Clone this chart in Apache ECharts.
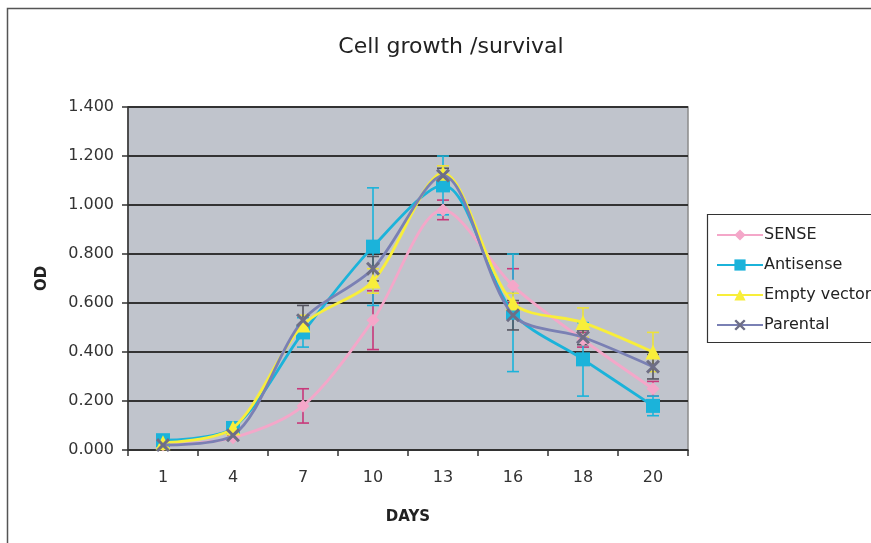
<!DOCTYPE html>
<html>
<head>
<meta charset="utf-8">
<script src="https://cdn.jsdelivr.net/npm/echarts@6/dist/echarts.min.js"></script>
<style>html,body{margin:0;padding:0;background:#fff;}#chart{width:871px;height:543px;}</style>
</head>
<body>
<div id="chart"></div>
<script>
const days = ['1', '4', '7', '10', '13', '16', '18', '20'];
const seriesNames = ['SENSE', 'Antisense', 'Empty vector', 'Parental'];
const sense = [0.02, 0.05, 0.18, 0.53, 0.98, 0.67, 0.45, 0.25];
const antisense = [0.04, 0.09, 0.48, 0.83, 1.08, 0.56, 0.37, 0.18];
const emptyVector = [0.03, 0.09, 0.51, 0.69, 1.13, 0.60, 0.52, 0.40];
const parental = [0.02, 0.06, 0.53, 0.74, 1.12, 0.55, 0.46, 0.34];
const senseErr = [0.01, 0.01, 0.07, 0.12, 0.04, 0.07, 0.03, 0.03];
const antisenseErr = [0.01, 0.02, 0.06, 0.24, 0.12, 0.24, 0.15, 0.04];
const emptyVectorErr = [0.01, 0.02, 0.04, 0.05, 0.03, 0.04, 0.06, 0.08];
const parentalErr = [0.01, 0.02, 0.06, 0.05, 0.03, 0.06, 0.03, 0.05];
const yTicks = [0, 0.2, 0.4, 0.6, 0.8, 1.0, 1.2, 1.4];

const FONT = 'DejaVu Sans';
const values = [sense, antisense, emptyVector, parental];
const errs = [senseErr, antisenseErr, emptyVectorErr, parentalErr];
const lineColors = ['#F4A7C9', '#1BB3DA', '#F8EE3A', '#7A80B4'];
const markColors = ['#F4A7C9', '#1BB3DA', '#F8EE3A', '#6E6E86'];
const errColors = ['#C8387A', '#1BB3DA', '#EDE23A', '#555560'];
const xPath = 'path://M0,1.5 L1.5,0 L5,3.5 L8.5,0 L10,1.5 L6.5,5 L10,8.5 L8.5,10 L5,6.5 L1.5,10 L0,8.5 L3.5,5 Z';
const symbols = ['diamond', 'rect', 'triangle', xPath];
const symbolSizes = [13, 14, 15, 14];

const chart = echarts.init(document.getElementById('chart'), null, {renderer: 'canvas'});

const errSeries = values.map((vals, s) => ({
  type: 'custom',
  name: seriesNames[s] + ' err',
  z: 2,
  silent: true,
  data: vals.map((v, i) => [i, v, errs[s][i]]),
  renderItem: function (params, api) {
    const i = api.value(0), v = api.value(1), e = api.value(2);
    const top = api.coord([i, v + e]);
    const bot = api.coord([i, v - e]);
    const hw = 6;
    const st = {stroke: errColors[s], lineWidth: 1.6};
    return {
      type: 'group',
      children: [
        {type: 'line', shape: {x1: top[0], y1: top[1], x2: bot[0], y2: bot[1]}, style: st},
        {type: 'line', shape: {x1: top[0] - hw, y1: top[1], x2: top[0] + hw, y2: top[1]}, style: st},
        {type: 'line', shape: {x1: bot[0] - hw, y1: bot[1], x2: bot[0] + hw, y2: bot[1]}, style: st}
      ]
    };
  }
}));

const lineSeries = values.map((vals, s) => ({
  type: 'line',
  name: seriesNames[s],
  data: vals,
  smooth: 0.3,
  z: 3 + s,
  symbol: symbols[s],
  symbolSize: symbolSizes[s],
  showAllSymbol: true,
  lineStyle: {color: lineColors[s], width: 2.8},
  itemStyle: {color: markColors[s], borderWidth: 0},
  emphasis: {disabled: true}
}));

const option = {
  animation: false,
  backgroundColor: '#ffffff',
  title: {
    text: 'Cell growth /survival',
    left: 446, top: 31, textAlign: 'center',
    textStyle: {fontFamily: FONT, fontSize: 22, fontWeight: 'normal', color: '#222'}
  },
  graphic: [
    {type: 'rect', z: 0, shape: {x: 7.5, y: 8.5, width: 1000, height: 1000},
     style: {fill: 'none', stroke: '#555', lineWidth: 1.5}},
    {type: 'rect', z: 1, shape: {x: 707.5, y: 214.5, width: 300, height: 128},
     style: {fill: '#fff', stroke: '#333', lineWidth: 1.2}}
  ],
  legend: {
    data: seriesNames,
    orient: 'vertical',
    left: 711, top: 222,
    itemWidth: 46, itemHeight: 14, itemGap: 14,
    z: 10,
    textStyle: {fontFamily: FONT, fontSize: 16, color: '#222', padding: [0, 0, 0, -4]}
  },
  grid: {left: 128, top: 107, width: 560, height: 343, show: true,
         backgroundColor: '#C0C4CC', borderColor: '#8A8A8A', borderWidth: 1.5},
  xAxis: {
    type: 'category', data: days, boundaryGap: true,
    name: 'DAYS', nameLocation: 'middle', nameGap: 60,
    nameTextStyle: {fontFamily: FONT, fontSize: 15, fontWeight: 'bold', color: '#222'},
    axisLine: {lineStyle: {color: '#333', width: 1.5}},
    axisTick: {show: true, alignWithLabel: false, length: 6, lineStyle: {color: '#333', width: 1.5}},
    axisLabel: {fontFamily: FONT, fontSize: 16, color: '#333', margin: 20}
  },
  yAxis: {
    type: 'value', min: 0, max: 1.4, interval: 0.2,
    name: 'OD', nameLocation: 'middle', nameGap: 78, nameRotate: 90,
    nameTextStyle: {fontFamily: FONT, fontSize: 15, fontWeight: 'bold', color: '#222'},
    axisLine: {show: true, lineStyle: {color: '#333', width: 1.5}},
    axisTick: {show: true, length: 6, lineStyle: {color: '#333', width: 1.5}},
    splitLine: {lineStyle: {color: '#333', width: 2}},
    axisLabel: {fontFamily: FONT, fontSize: 16, color: '#333', margin: 14,
      formatter: v => v.toFixed(3)}
  },
  series: errSeries.concat(lineSeries)
};
chart.setOption(option);
</script>
</body>
</html>
